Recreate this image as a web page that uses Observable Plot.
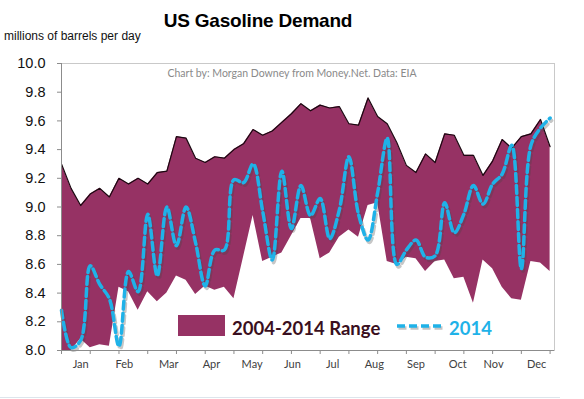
<!DOCTYPE html>
<html>
<head>
<meta charset="utf-8">
<script src="https://cdn.jsdelivr.net/npm/d3@7"></script>
<script src="https://cdn.jsdelivr.net/npm/@observablehq/plot@0.6"></script>
<style>
  html, body { margin: 0; padding: 0; background: #ffffff; }
  #wrap { position: relative; width: 584px; height: 399px; overflow: hidden; background: #fff; }
  #chart { position: absolute; left: 0; top: 0; }
  .t { position: absolute; white-space: nowrap; line-height: 1; }
  #title { left: 0; width: 516px; top: 10px; text-align: center; font: bold 19px "Liberation Sans", Arial, sans-serif; color: #000; letter-spacing: -0.2px; }
  #subtitle { left: 4px; top: 29px; font: 12px "Liberation Sans", Arial, sans-serif; color: #111; }
  #credit { left: 0; width: 584px; top: 67px; text-align: center; font: 10.5px Lato, sans-serif; color: #8a8a8a; }
  #legRect { position: absolute; left: 178px; top: 315px; width: 47px; height: 21px; background: #963264; }
  #legRange { left: 232px; top: 317px; font: bold 18.5px Lato, sans-serif; color: #3a0f20; }
  #legLine { position: absolute; left: 396px; top: 319px; }
  #leg2014 { left: 449px; top: 317px; font: bold 18.5px Lato, sans-serif; color: #1fb2e8; }
  #bottomLine { position: absolute; left: 0; top: 397px; width: 560px; height: 1px; background: #dde5ec; }
  g[aria-label="y-axis tick label"] text { font-family: "Liberation Sans", Arial, sans-serif; }
  g[aria-label="x-axis tick label"] text { font-family: Lato, sans-serif; }
</style>
</head>
<body>
<div id="wrap">
  <div id="chart"></div>
  <div class="t" id="title">US Gasoline Demand</div>
  <div class="t" id="subtitle">millions of barrels per day</div>
  <div class="t" id="credit">Chart by: Morgan Downey from Money.Net. Data: EIA</div>
  <div id="legRect"></div>
  <div class="t" id="legRange">2004-2014 Range</div>
  <svg id="legLine" width="50" height="14">
    <line x1="1" y1="7" x2="46" y2="7" stroke="#555" stroke-opacity="0.35" stroke-width="3.5" stroke-dasharray="8,4" transform="translate(1.5,2)"></line>
    <line x1="1" y1="7" x2="46" y2="7" stroke="#1fb2e8" stroke-width="3.5" stroke-dasharray="8,4"></line>
  </svg>
  <div class="t" id="leg2014">2014</div>
  <div id="bottomLine"></div>
</div>
<script>
// Weekly values (week index 0..51 of the year), millions of barrels per day
const rangeHigh = [9.30, 9.13, 9.01, 9.09, 9.13, 9.07, 9.20, 9.16, 9.20, 9.16,
                   9.24, 9.25, 9.49, 9.48, 9.34, 9.31, 9.35, 9.34, 9.40, 9.44,
                   9.54, 9.50, 9.53, 9.59, 9.65, 9.72, 9.67, 9.71, 9.69, 9.70,
                   9.58, 9.57, 9.76, 9.63, 9.58, 9.45, 9.29, 9.24, 9.37, 9.31,
                   9.51, 9.50, 9.36, 9.36, 9.22, 9.32, 9.47, 9.41, 9.49, 9.51,
                   9.61, 9.42];
const rangeLow  = [8.00, 8.00, 8.08, 8.02, 8.04, 8.03, 8.44, 8.41, 8.28, 8.41,
                   8.34, 8.40, 8.52, 8.49, 8.39, 8.45, 8.42, 8.44, 8.36, 8.65,
                   8.94, 8.62, 8.65, 8.68, 8.80, 8.92, 8.92, 8.64, 8.68, 8.79,
                   8.84, 8.79, 9.01, 9.03, 8.62, 8.60, 8.65, 8.64, 8.55, 8.62,
                   8.63, 8.50, 8.51, 8.33, 8.63, 8.57, 8.44, 8.36, 8.35, 8.62,
                   8.61, 8.55];
const y2014     = [8.28, 8.02, 8.07, 8.59, 8.46, 8.36, 8.03, 8.55, 8.41, 8.95,
                   8.52, 9.00, 8.73, 9.00, 8.75, 8.45, 8.70, 8.70, 9.19, 9.17,
                   9.30, 8.97, 8.63, 9.25, 8.85, 9.15, 8.94, 9.06, 8.78, 8.98,
                   9.35, 8.95, 8.77, 9.10, 9.48, 8.60, 8.70, 8.77, 8.65, 8.66,
                   9.03, 8.82, 8.95, 9.15, 9.02, 9.16, 9.23, 9.43, 8.57, 9.43,
                   9.55, 9.62];
const weeks = rangeHigh.map((_, i) => i);

// Axis labels
const months = ["Jan", "Feb", "Mar", "Apr", "May", "Jun", "Jul", "Aug", "Sep", "Oct", "Nov", "Dec"];
const monthPos = [2.0, 6.55, 11.2, 15.65, 19.9, 24.1, 28.3, 32.65, 37.0, 41.35, 45.1, 49.6];
const tickWeeks = [0, 3, 6, 9, 12, 15, 18, 21, 24, 27, 30, 33, 36, 39, 42, 45, 48, 51];
const yTicks = [8.0, 8.2, 8.4, 8.6, 8.8, 9.0, 9.2, 9.4, 9.6, 9.8, 10.0];

const monthMap = new Map(monthPos.map((p, i) => [p, months[i]]));
const data = weeks.map(i => ({w: i, lo: rangeLow[i], hi: rangeHigh[i], v: y2014[i]}));

const purple = "#963264";
const cyan = "#1fb2e8";
const axisGrey = "#8c8c8c";

const chart = Plot.plot({
  width: 584,
  height: 399,
  marginLeft: 61,
  marginRight: 30,
  marginTop: 63,
  marginBottom: 49,
  x: {domain: [0, 51.46], label: null},
  y: {domain: [8, 10], label: null},
  style: {background: "transparent", overflow: "visible"},
  marks: [
    Plot.frame({stroke: "#c9c9c9"}),
    Plot.areaY(data, {x: "w", y1: "lo", y2: "hi", fill: purple}),
    Plot.lineY(data, {x: "w", y: "hi", stroke: "#1a0810", strokeWidth: 1.2}),
    Plot.lineY(data, {x: "w", y: "v", stroke: "#444", strokeOpacity: 0.3, strokeWidth: 3.6,
                      strokeDasharray: "8,4", curve: "catmull-rom", dx: 1.5, dy: 2.5}),
    Plot.lineY(data, {x: "w", y: "v", stroke: cyan, strokeWidth: 3.5,
                      strokeDasharray: "8,4", curve: "catmull-rom"}),
    Plot.ruleX([0], {stroke: axisGrey}),
    Plot.ruleY([8], {stroke: axisGrey}),
    Plot.axisY({ticks: yTicks, tickFormat: d3.format(".1f"), tickSize: 4, tickPadding: 12,
                fontSize: 14.5, stroke: axisGrey, fill: "#111", label: null}),
    Plot.axisX({ticks: tickWeeks, tickSize: 4, tickFormat: () => "", stroke: axisGrey, label: null}),
    Plot.axisX({ticks: monthPos, tickFormat: d => monthMap.get(d), tickSize: 0, tickPadding: 10,
                fontSize: 11, fill: "#404040", label: null})
  ]
});
document.getElementById("chart").appendChild(chart);
</script>
</body>
</html>
